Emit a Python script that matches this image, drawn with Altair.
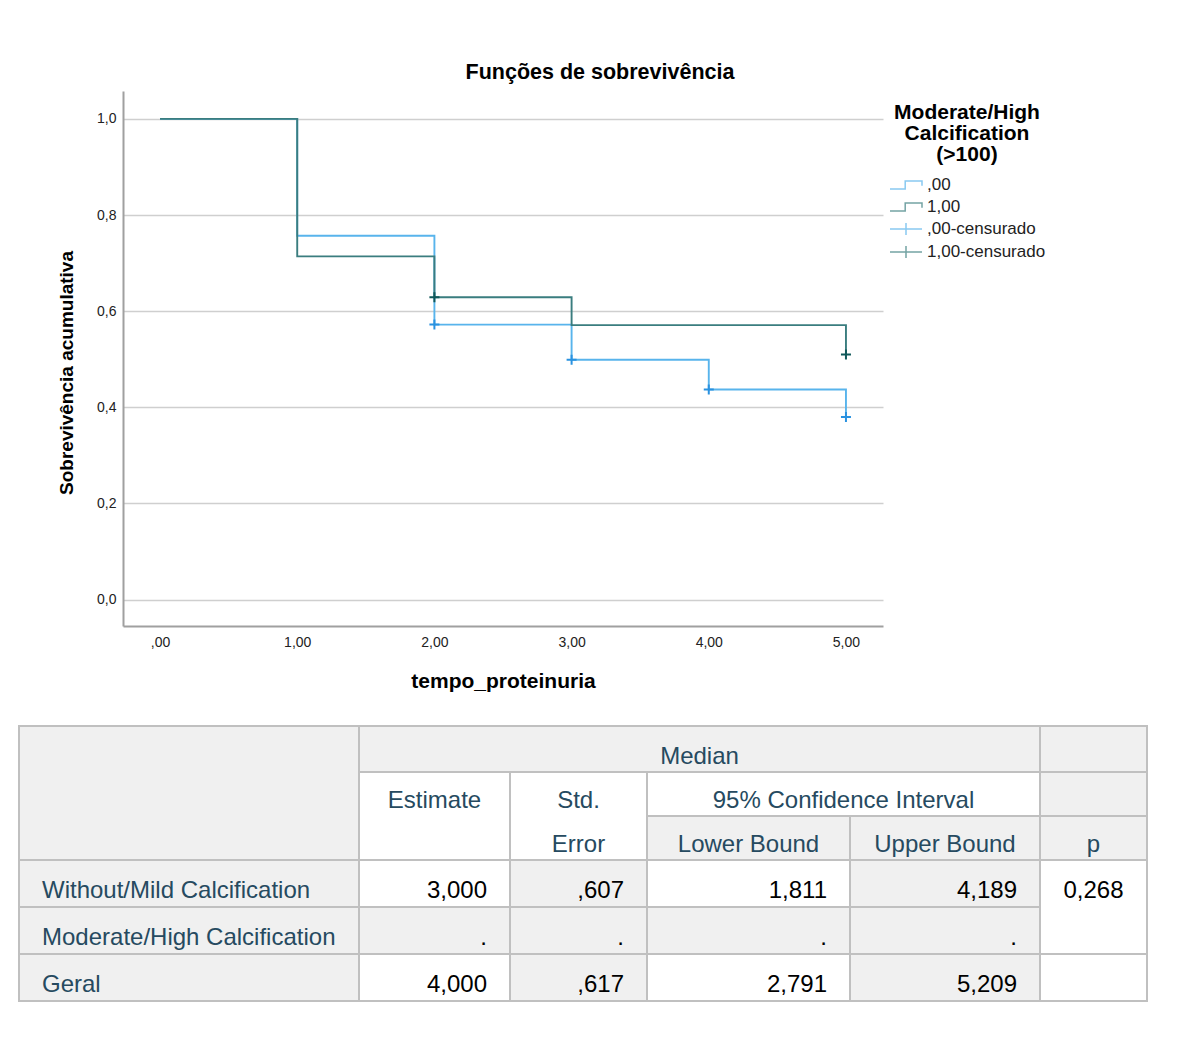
import altair as alt
import pandas as pd

# ---------------- Kaplan-Meier data ----------------
group_names = [",00", "1,00"]
times_g0 = [0, 1, 2, 3, 4, 5]
surv_g0 = [1.0, 0.757, 0.572, 0.499, 0.437, 0.380]
times_g1 = [0, 1, 2, 3, 5]
surv_g1 = [1.0, 0.714, 0.629, 0.571, 0.510]
cens_times_g0 = [2, 3, 4, 5]
cens_surv_g0 = [0.572, 0.499, 0.437, 0.380]
cens_times_g1 = [2, 5]
cens_surv_g1 = [0.629, 0.510]
legend_entries = [",00", "1,00", ",00-censurado", "1,00-censurado"]
x_ticks = [0, 1, 2, 3, 4, 5]
y_ticks = [0.0, 0.2, 0.4, 0.6, 0.8, 1.0]

# ---------------- table data ----------------
row_labels = ["Without/Mild Calcification", "Moderate/High Calcification", "Geral"]
estimate = ["3,000", ".", "4,000"]
std_error = [",607", ".", ",617"]
lower_bound = ["1,811", ".", "2,791"]
upper_bound = ["4,189", ".", "5,209"]
p_value = "0,268"
header_median = "Median"
header_estimate = "Estimate"
header_std = ["Std.", "Error"]
header_ci = "95% Confidence Interval"
header_lower = "Lower Bound"
header_upper = "Upper Bound"
header_p = "p"

# ---------------- styling / layout ----------------
FONT = "Liberation Sans"
LIGHT, DARK = "#58b4ec", "#3a7d7f"
LIGHT_C, DARK_C = "#2a92e0", "#10585a"
step_path = "M-2,0.5H-0.1V-0.5H2V0.1"
plus_legend = "M-2,0H2M0,-0.75V0.75"
plus_point = "M-1,0H1M0,-1V1"
PLOT_W, PLOT_H = 760, 535

line_rows = []
for t, s in zip(times_g0, surv_g0):
    line_rows.append({"t": t, "s": s, "grp": legend_entries[0]})
for t, s in zip(times_g1, surv_g1):
    line_rows.append({"t": t, "s": s, "grp": legend_entries[1]})
for t, s in zip(cens_times_g0, cens_surv_g0):
    line_rows.append({"t": t, "s": s, "grp": legend_entries[2]})
for t, s in zip(cens_times_g1, cens_surv_g1):
    line_rows.append({"t": t, "s": s, "grp": legend_entries[3]})
km_df = pd.DataFrame(line_rows)

x_scale = alt.Scale(domain=[-0.27, 5.27], nice=False, zero=False)
y_scale = alt.Scale(domain=[-0.055, 1.058], nice=False, zero=False)

x_enc = alt.X(
    "t:Q", scale=x_scale,
    axis=alt.Axis(
        values=x_ticks, title="tempo_proteinuria", grid=False, ticks=False,
        labelExpr="datum.value == 0 ? ',00' : replace(format(datum.value, '.2f'), '.', ',')",
        domainColor="#a0a0a0", domainWidth=2, labelFontSize=14, labelColor="#222222",
        labelPadding=9, titleFontSize=21, titleFontWeight="bold", titleColor="#000000",
        titlePadding=21, labelFont=FONT, titleFont=FONT,
    ),
)
y_enc = alt.Y(
    "s:Q", scale=y_scale,
    axis=alt.Axis(
        values=y_ticks, title="Sobrevivência acumulativa", grid=True, ticks=False,
        labelExpr="replace(format(datum.value, '.1f'), '.', ',')",
        gridColor="#cfcfcf", gridWidth=1.5,
        domainColor="#a0a0a0", domainWidth=2, labelFontSize=14, labelColor="#222222",
        labelPadding=7, titleFontSize=19, titleFontWeight="bold", titleColor="#000000",
        titlePadding=20, titleY=PLOT_H / 2 + 14, labelFont=FONT, titleFont=FONT,
    ),
)

base = alt.Chart(km_df)


def curve(name, color):
    return base.transform_filter(alt.datum.grp == name).mark_line(
        interpolate="step-after", strokeWidth=1.9, color=color
    ).encode(x=x_enc, y=y_enc)


def censor(name, color):
    return base.transform_filter(alt.datum.grp == name).mark_point(
        shape=plus_point, size=100, strokeWidth=2, filled=False, opacity=1, color=color
    ).encode(x=x_enc, y=y_enc)


leg = alt.Legend(
    title=["Moderate/High", "Calcification", "(>100)"],
    titleFontSize=21, titleFontWeight="bold", titleColor="#000000", titleFont=FONT,
    titleAlign="center", titleAnchor="middle", titleLineHeight=21, titlePadding=11,
    labelFontSize=17, labelColor="#222222", labelFont=FONT,
    symbolSize=256, symbolStrokeWidth=1.5, symbolOffset=8, labelOffset=12,
    rowPadding=5, padding=0, orient="none", legendX=870, legendY=11,
)
legend_layer = base.transform_filter("false").mark_point(
    filled=False, size=256, strokeWidth=1.5
).encode(
    x=x_enc, y=y_enc,
    color=alt.Color("grp:N", scale=alt.Scale(domain=legend_entries, range=[LIGHT, DARK, LIGHT, DARK]), legend=leg),
    shape=alt.Shape("grp:N", scale=alt.Scale(domain=legend_entries, range=[step_path, step_path, plus_legend, plus_legend]), legend=leg),
)

km = alt.layer(
    curve(legend_entries[0], LIGHT), curve(legend_entries[1], DARK),
    censor(legend_entries[2], LIGHT_C), censor(legend_entries[3], DARK_C),
    legend_layer,
).properties(
    width=PLOT_W, height=PLOT_H,
    title=alt.TitleParams(
        "Funções de sobrevivência", fontSize=21.5, fontWeight="bold", font=FONT,
        color="#000000", anchor="middle", frame="group", dx=97, offset=8,
    ),
)

spacer = alt.Chart(pd.DataFrame({"v": [0]})).mark_point(opacity=0).properties(width=38, height=10)

# ---------------- table layout ----------------
col_edges = [0, 340, 491, 628, 831, 1021, 1128]
row_edges = [0, 46, 90, 134, 181, 228, 275]
GRAY, WHITE = "#f0f0f0", "#ffffff"
HEAD_COLOR, VAL_COLOR = "#264a60", "#000000"
PAD = 23

cells = [
    (0, 1, 0, 3, GRAY), (1, 5, 0, 1, GRAY), (5, 6, 0, 1, GRAY),
    (1, 2, 1, 3, WHITE), (2, 3, 1, 3, WHITE), (3, 5, 1, 2, WHITE), (5, 6, 1, 2, GRAY),
    (3, 4, 2, 3, GRAY), (4, 5, 2, 3, GRAY), (5, 6, 2, 3, GRAY),
    (5, 6, 3, 5, WHITE), (5, 6, 5, 6, WHITE),
]
col_bg = [[WHITE, GRAY, WHITE], [GRAY, GRAY, GRAY], [WHITE, GRAY, WHITE], [GRAY, GRAY, GRAY]]
for i in range(3):
    cells.append((0, 1, 3 + i, 4 + i, GRAY))
    for c in range(4):
        cells.append((1 + c, 2 + c, 3 + i, 4 + i, col_bg[c][i]))
rect_df = pd.DataFrame([
    {"x0": col_edges[a], "x1": col_edges[b], "y0": row_edges[r0], "y1": row_edges[r1], "bg": bg}
    for a, b, r0, r1, bg in cells
])


def baseline(r):
    return row_edges[r + 1] - (8 if r < 3 else 9.5)


center_items = [
    (header_median, 1, 5, 0, HEAD_COLOR), (header_estimate, 1, 2, 1, HEAD_COLOR),
    (header_std[0], 2, 3, 1, HEAD_COLOR), (header_std[1], 2, 3, 2, HEAD_COLOR),
    (header_ci, 3, 5, 1, HEAD_COLOR), (header_lower, 3, 4, 2, HEAD_COLOR),
    (header_upper, 4, 5, 2, HEAD_COLOR), (header_p, 5, 6, 2, HEAD_COLOR),
    (p_value, 5, 6, 3, VAL_COLOR),
]
center_df = pd.DataFrame([
    {"x": (col_edges[a] + col_edges[b]) / 2, "y": baseline(r), "text": t, "col": c}
    for t, a, b, r, c in center_items
])
left_df = pd.DataFrame([
    {"x": col_edges[0] + PAD, "y": baseline(3 + i), "text": lab, "col": HEAD_COLOR}
    for i, lab in enumerate(row_labels)
])
right_rows = []
for c, vals in enumerate([estimate, std_error, lower_bound, upper_bound]):
    for i, v in enumerate(vals):
        right_rows.append({"x": col_edges[c + 2] - PAD, "y": baseline(3 + i), "text": v, "col": VAL_COLOR})
right_df = pd.DataFrame(right_rows)

tx = alt.Scale(domain=[col_edges[0], col_edges[-1]], nice=False, zero=False)
ty = alt.Scale(domain=[row_edges[0], row_edges[-1]], nice=False, zero=False, reverse=True)

rects = alt.Chart(rect_df).mark_rect(stroke="#c0c0c0", strokeWidth=2).encode(
    x=alt.X("x0:Q", scale=tx, axis=None), x2="x1:Q",
    y=alt.Y("y0:Q", scale=ty, axis=None), y2="y1:Q",
    fill=alt.Fill("bg:N", scale=None),
)


def text_layer(df, align):
    return alt.Chart(df).mark_text(align=align, baseline="alphabetic", fontSize=24, font=FONT).encode(
        x=alt.X("x:Q", scale=tx, axis=None), y=alt.Y("y:Q", scale=ty, axis=None),
        text="text:N", color=alt.Color("col:N", scale=None),
    )


table = alt.layer(
    rects, text_layer(center_df, "center"), text_layer(left_df, "left"), text_layer(right_df, "right")
).properties(width=col_edges[-1], height=row_edges[-1])

top = alt.hconcat(spacer, km, spacing=0)
chart = alt.vconcat(top, table, spacing=34).properties(
    padding={"left": 10, "top": 53, "right": 5, "bottom": 5},
    background="white",
).configure(font=FONT).configure_view(strokeWidth=0, strokeOpacity=0)

chart.save("out.html", embed_options={"renderer": "svg", "actions": False})
